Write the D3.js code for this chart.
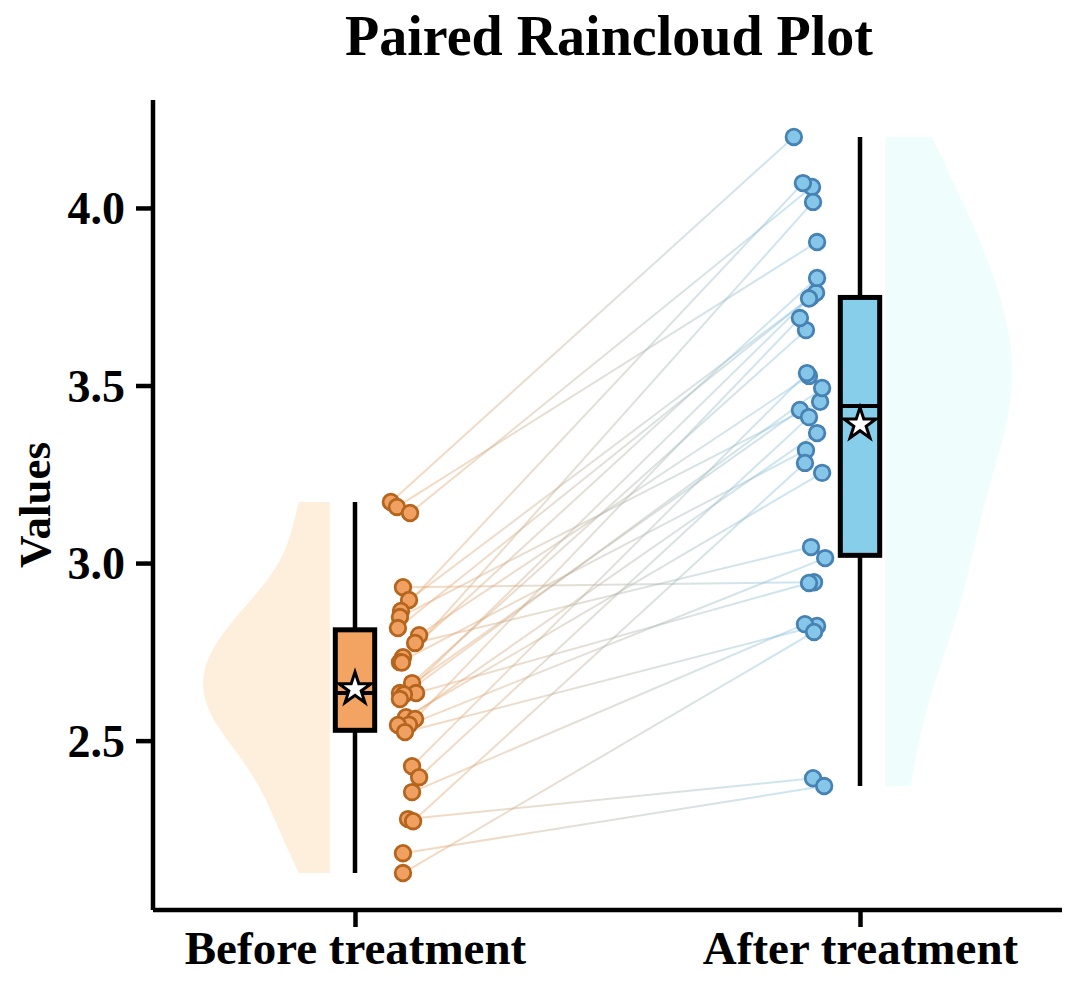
<!DOCTYPE html>
<html><head><meta charset="utf-8">
<script src="https://cdn.jsdelivr.net/npm/d3@7"></script>
<style>body{margin:0;background:#fff}svg{display:block}text{font-family:"Liberation Serif","Times New Roman",serif;font-weight:bold;fill:#000}</style>
</head><body><svg id="c" width="1080" height="995"></svg>
<script>
const categories = ["Before treatment", "After treatment"];
const beforeValues = [3.172,3.158,3.141,2.932,2.896,2.865,2.848,2.817,2.797,2.775,2.735,2.721,2.720,2.662,2.634,2.634,2.630,2.617,2.566,2.561,2.545,2.544,2.524,2.428,2.397,2.355,2.279,2.273,2.183,2.127];
const afterValues  = [4.200,3.904,4.059,2.946,3.749,4.070,3.454,3.761,3.527,3.045,3.803,3.318,4.017,3.656,3.431,2.944,3.493,3.745,3.254,3.690,3.014,3.366,2.823,3.535,3.411,2.828,2.394,3.282,2.372,2.806];
// horizontal jitter of each point, in category units
const beforeJitter = [0.071,0.083,0.109,0.095,0.107,0.091,0.089,0.085,0.127,0.119,0.095,0.089,0.093,0.113,0.089,0.121,0.097,0.089,0.101,0.119,0.107,0.085,0.099,0.113,0.127,0.113,0.105,0.115,0.095,0.095];
const afterJitter  = [-0.131,-0.085,-0.095,-0.091,-0.097,-0.113,-0.079,-0.087,-0.101,-0.097,-0.085,-0.107,-0.093,-0.107,-0.119,-0.101,-0.075,-0.101,-0.075,-0.119,-0.069,-0.085,-0.085,-0.105,-0.101,-0.109,-0.093,-0.109,-0.071,-0.091];
const yTicks = [2.5, 3.0, 3.5, 4.0];

const svg = d3.select("#c");
const x = d3.scaleLinear().domain([-0.4, 1.4]).range([153, 1062]);
const y = d3.scaleLinear().domain([2.023, 4.304]).range([910, 100]);

const groups = [
  {vals: beforeValues, jit: beforeJitter, pos: 0, side: -1, violin: "#fdefdc", box: "#f3a462", pf: "#f0a060", ps: "#b5651d"},
  {vals: afterValues, jit: afterJitter, pos: 1, side: 1, violin: "#effdfd", box: "#87ceeb", pf: "#86c6e8", ps: "#4682b4"}
];

function kde(vals){
  const n = vals.length, sd = d3.deviation(vals);
  const bw = sd * Math.pow(n, -0.2);
  const lo = d3.min(vals), hi = d3.max(vals);
  const pts = d3.range(0, 101).map(i => lo + (hi - lo) * i / 100);
  return pts.map(v => [v, d3.mean(vals, d => Math.exp(-0.5 * ((v - d) / bw) ** 2)) / (bw * Math.sqrt(2 * Math.PI))]);
}
groups.forEach(g => {
  const dens = kde(g.vals);
  const maxD = d3.max(dens, d => d[1]);
  const w = d3.scaleLinear().domain([0, maxD]).range([0, 0.251]);
  const base = g.pos + g.side * 0.05;
  const area = d3.area().curve(d3.curveBasis)
    .y(d => y(d[0]))
    .x0(() => x(base))
    .x1(d => x(base + g.side * w(d[1])));
  svg.append("path").datum(dens).attr("d", area).attr("fill", g.violin);
});

const defs = svg.append("defs");
const grad = defs.append("linearGradient").attr("id", "lg").attr("gradientUnits", "userSpaceOnUse")
  .attr("x1", x(0.1)).attr("x2", x(0.9)).attr("y1", 0).attr("y2", 0);
grad.append("stop").attr("offset", "0%").attr("stop-color", "#e8a060");
grad.append("stop").attr("offset", "100%").attr("stop-color", "#7ec0e0");
svg.append("g").selectAll("line").data(beforeValues).join("line")
  .attr("x1", (d, i) => x(0 + beforeJitter[i])).attr("y1", d => y(d))
  .attr("x2", (d, i) => x(1 + afterJitter[i])).attr("y2", (d, i) => y(afterValues[i]))
  .attr("stroke", "url(#lg)").attr("stroke-opacity", 0.4).attr("stroke-width", 2);

groups.forEach(g => {
  const s = g.vals.slice().sort(d3.ascending);
  const q1 = d3.quantile(s, 0.25), q2 = d3.quantile(s, 0.5), q3 = d3.quantile(s, 0.75);
  const iqr = q3 - q1;
  const lo = d3.min(s.filter(v => v >= q1 - 1.5 * iqr)), hi = d3.max(s.filter(v => v <= q3 + 1.5 * iqr));
  const bg = svg.append("g");
  bg.append("line").attr("x1", x(g.pos)).attr("x2", x(g.pos)).attr("y1", y(hi)).attr("y2", y(lo))
    .attr("stroke", "#000").attr("stroke-width", 4.5);
  const hw = 0.039;
  bg.append("rect").attr("x", x(g.pos - hw)).attr("width", x(g.pos + hw) - x(g.pos - hw))
    .attr("y", y(q3)).attr("height", y(q1) - y(q3)).attr("fill", g.box).attr("stroke", "#000").attr("stroke-width", 5);
  bg.append("line").attr("x1", x(g.pos - hw)).attr("x2", x(g.pos + hw)).attr("y1", y(q2)).attr("y2", y(q2))
    .attr("stroke", "#000").attr("stroke-width", 4);
  g.mean = d3.mean(s);
});

groups.forEach(g => {
  svg.append("g").selectAll("circle").data(g.vals).join("circle")
    .attr("cx", (d, i) => x(g.pos + g.jit[i])).attr("cy", d => y(d)).attr("r", 7.8)
    .attr("fill", g.pf).attr("stroke", g.ps).attr("stroke-width", 2.8);
});

const star = d3.symbol().type(d3.symbolStar).size(320);
groups.forEach(g => {
  svg.append("path").attr("d", star).attr("transform", `translate(${x(g.pos)},${y(g.mean) + 2})`)
    .attr("fill", "#fff").attr("stroke", "#000").attr("stroke-width", 3).attr("stroke-linejoin", "miter");
});

const yAxis = svg.append("g").attr("transform", `translate(${x(-0.4)},0)`)
  .call(d3.axisLeft(y).tickValues(yTicks).tickFormat(d3.format(".1f")).tickSize(17).tickPadding(11));
yAxis.select(".domain").attr("d", `M0,${y(2.023)}V${y(4.304)}`).attr("stroke-width", 4.5);
yAxis.selectAll(".tick line").attr("stroke-width", 4.5);
yAxis.selectAll("text").style("font-size", "46px").attr("dy", "0.34em");

const xAxis = svg.append("g").attr("transform", `translate(0,${y(2.023)})`)
  .call(d3.axisBottom(x).tickValues([0, 1]).tickFormat(i => categories[i]).tickSize(17).tickPadding(4));
xAxis.select(".domain").attr("d", `M${x(-0.4)},0H${x(1.4)}`).attr("stroke-width", 4.5);
xAxis.selectAll(".tick line").attr("stroke-width", 4.5);
xAxis.selectAll("text").style("font-size", "47px").attr("dy", "0.71em");

svg.append("text").attr("transform", "translate(50,505) rotate(-90)").attr("text-anchor", "middle")
  .style("font-size", "45px").text("Values");
svg.append("text").attr("x", 609).attr("y", 55).attr("text-anchor", "middle")
  .style("font-size", "56px").text("Paired Raincloud Plot");
</script></body></html>
